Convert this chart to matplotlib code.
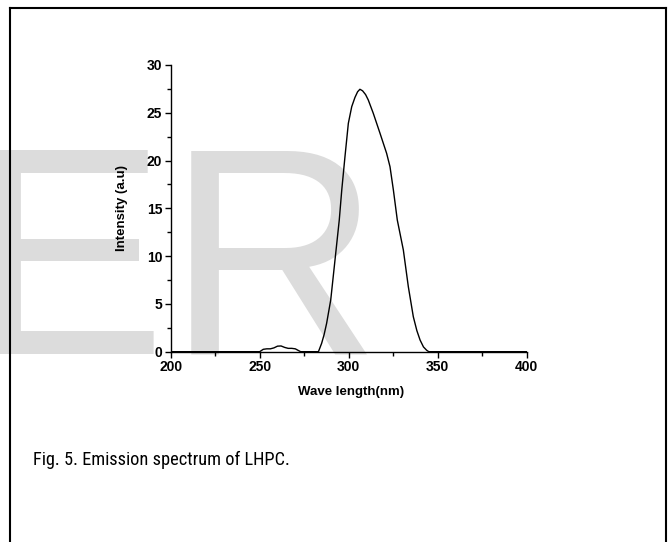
import matplotlib
matplotlib.use("Agg")
import matplotlib.pyplot as plt
from matplotlib.lines import Line2D
from matplotlib import font_manager

# Data
wavelength = [200, 250, 252, 254, 256, 258, 260, 262, 264, 266, 268, 270, 271.5, 273, 283,
              284.8, 286.2, 287.6, 289.9, 292.3, 294.7, 296.1, 297.9, 299.8, 301.7, 303.5,
              305.0, 306.3, 307.8, 309.5, 311.0, 313.8, 317.6, 321.3, 323.2, 325.1, 327.3,
              330.7, 333.5, 336.3, 338.3, 340.1, 342.0, 343.8, 345.0, 400]
intensity = [0, 0, 0.25, 0.3, 0.3, 0.4, 0.58, 0.6, 0.45, 0.35, 0.35, 0.3, 0.15, 0, 0,
             0.88, 1.8, 2.97, 5.41, 9.59, 13.78, 16.92, 20.40, 23.9, 25.64, 26.6,
             27.2, 27.46, 27.3, 26.9, 26.34, 24.95, 22.85, 20.76, 19.36, 16.92, 13.78,
             10.64, 6.80, 3.66, 2.2, 1.22, 0.5, 0.15, 0, 0]

x_ticks = [200, 250, 300, 350, 400]
y_ticks = [0, 5, 10, 15, 20, 25, 30]
x_label = "Wave length(nm)"
y_label = "Intensity (a.u)"
caption = "Fig. 5. Emission spectrum of LHPC."
watermark_letters = ["E", "R"]

plt.rcParams['font.family'] = ['Liberation Sans', 'DejaVu Sans']

names = {f.name for f in font_manager.fontManager.ttflist}
narrow = [n for n in ['Liberation Sans Narrow', 'Arial Narrow', 'Roboto Condensed',
                      'Open Sans Condensed', 'Noto Sans Condensed'] if n in names]
if narrow:
    cap_family = [narrow[0], 'DejaVu Sans']
    cap_size = 13.2
else:
    cap_family = ['Liberation Sans', 'DejaVu Sans']
    cap_size = 12.3

W, H = 670, 542
fig = plt.figure(figsize=(W / 100, H / 100), dpi=100)

# Watermark
for letter, xo in zip(watermark_letters, [-31, 167]):
    fig.text(xo / W, 1 - 354 / H, letter, fontsize=213, color='#dcdcdc',
             ha='left', va='baseline', zorder=-1)

# Frame
frame_kw = dict(color='black', lw=1.5, transform=fig.transFigure, zorder=5)
fig.add_artist(Line2D([10 / W, 10 / W], [1 - 8 / H, -0.01], **frame_kw))
fig.add_artist(Line2D([10 / W, 666 / W], [1 - 8 / H, 1 - 8 / H], **frame_kw))
fig.add_artist(Line2D([666 / W, 666 / W], [1 - 8 / H, -0.01], **frame_kw))

left, right = 170.7 / W, 526.7 / W
top, bottom = 1 - 65 / H, 1 - 351.7 / H
ax = fig.add_axes([left, bottom, right - left, top - bottom])
ax.patch.set_alpha(0)
ax.plot(wavelength, intensity, color='black', lw=1.0)
ax.set_xlim(200, 400)
ax.set_ylim(0, 30)
ax.set_xticks(x_ticks)
ax.set_yticks(y_ticks)
ax.set_xticks([225, 275, 325, 375], minor=True)
ax.set_yticks([2.5, 7.5, 12.5, 17.5, 22.5, 27.5], minor=True)
for s in ['top', 'right']:
    ax.spines[s].set_visible(False)
for s in ['left', 'bottom']:
    ax.spines[s].set_linewidth(1.0)
ax.tick_params(which='major', direction='out', length=4, width=1, pad=2,
               labelsize=10)
ax.tick_params(which='minor', direction='out', length=3, width=1)
for lab in ax.get_xticklabels() + ax.get_yticklabels():
    lab.set_fontweight('bold')
ax.set_xlabel(x_label, fontsize=9.5, fontweight='bold', va='center')
ax.set_ylabel(y_label, fontsize=9.5, fontweight='bold', va='center')
ax.xaxis.set_label_coords(0.506, -0.14)
ax.yaxis.set_label_coords(-0.137, 0.5)

fig.text(33 / W, 1 - 465 / H, caption, fontsize=cap_size, ha='left', va='baseline',
         family=cap_family)

fig.savefig("out.png", dpi=100)
